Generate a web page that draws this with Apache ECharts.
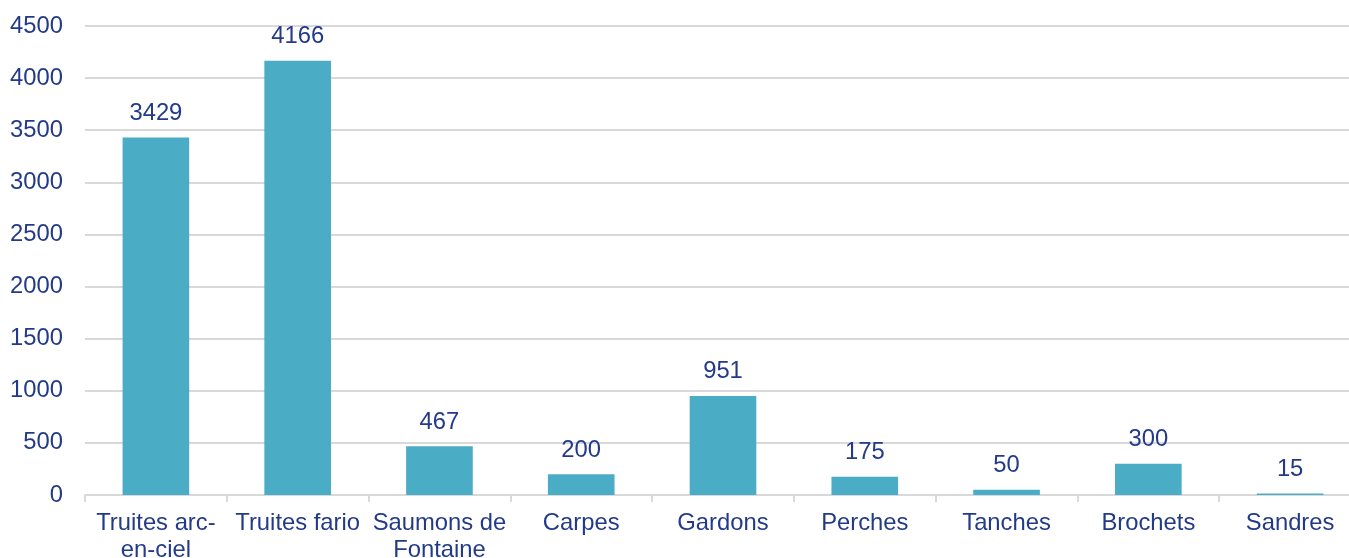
<!DOCTYPE html>
<html>
<head>
<meta charset="utf-8">
<script src="https://cdn.jsdelivr.net/npm/echarts@6/dist/echarts.min.js"></script>
<style>
    html, body { margin: 0; padding: 0; background: #fff; }
    #barChart { width: 1349px; height: 558px; }
</style>
</head>
<body>
<div id="barChart"></div>
<script>
const categories = ['Truites arc-\nen-ciel', 'Truites fario', 'Saumons de\nFontaine', 'Carpes', 'Gardons', 'Perches', 'Tanches', 'Brochets', 'Sandres'];
const values = [3429, 4166, 467, 200, 951, 175, 50, 300, 15];
const yTicks = [0, 500, 1000, 1500, 2000, 2500, 3000, 3500, 4000, 4500];

const textColor = '#233A88';
const lineColor = '#D9D9D9';
const font = 'Liberation Sans, Arial, sans-serif';
const fontSize = 23.8;

const chartOption = {
    animation: false,
    grid: {
        top: 26, left: 85, width: 1276, bottom: 63,
        outerBoundsMode: 'none',
        containLabel: false
    },
    xAxis: {
        type: 'category',
        data: categories,
        axisLine: { show: true, lineStyle: { color: lineColor, width: 2 } },
        axisTick: { show: true, alignWithLabel: false, length: 7, lineStyle: { color: lineColor, width: 2 } },
        axisLabel: {
            interval: 0,
            margin: 15,
            color: textColor,
            fontSize: fontSize,
            fontFamily: font,
            lineHeight: 27
        }
    },
    yAxis: {
        type: 'value',
        min: yTicks[0],
        max: yTicks[yTicks.length - 1],
        interval: 500,
        axisLine: { show: false },
        axisTick: { show: false },
        axisLabel: {
            margin: 22,
            color: textColor,
            fontSize: fontSize,
            fontFamily: font,
            formatter: (v) => String(v)
        },
        splitLine: { show: true, lineStyle: { color: lineColor, width: 2 } }
    },
    series: [
        {
            type: 'bar',
            data: values,
            barWidth: '47%',
            itemStyle: { color: '#4BACC6' },
            label: {
                show: true,
                position: 'top',
                distance: 12,
                color: textColor,
                fontSize: fontSize,
                fontFamily: font
            }
        }
    ]
};

//차트 생성
const barChart = document.getElementById('barChart');
echarts.init(barChart).setOption(chartOption);
</script>
</body>
</html>
